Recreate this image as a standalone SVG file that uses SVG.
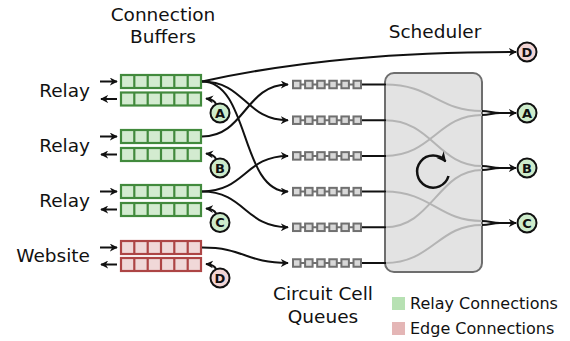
<svg xmlns="http://www.w3.org/2000/svg" width="570" height="341" viewBox="0 0 570 341">
<defs>
<style>
text{font-family:"DejaVu Sans","Liberation Sans",sans-serif;fill:#111}
.lbl{font-size:18.5px}
.leg{font-size:16px}
.ltr{font-size:13px;font-weight:bold;text-anchor:middle}
.gr{fill:#d3ebd0;stroke:#428a3d;stroke-width:2.2}
.gs{stroke:#428a3d;stroke-width:2.2}
.rd{fill:#f0d8d8;stroke:#ad4545;stroke-width:2.2}
.rs{stroke:#ad4545;stroke-width:2.2}
.q rect{fill:#d9d9d9;stroke:#707070;stroke-width:2}
.q line{stroke:#707070;stroke-width:2}
.cg{fill:#cdeccb;stroke:#111;stroke-width:2}
.cr{fill:#f2d5d5;stroke:#111;stroke-width:2}
.k{fill:none;stroke:#111;stroke-width:2}
.ka{fill:none;stroke:#111;stroke-width:2;marker-end:url(#ah)}
.g{fill:none;stroke:#b4b4b4;stroke-width:2}
</style>
<marker id="ah" viewBox="0 0 10 10" refX="9" refY="5" markerWidth="4" markerHeight="4" orient="auto">
<path d="M0,0 L10,5 L0,10 L3,5 z" fill="#111"/>
</marker>
<g id="rowG">
<rect class="gr" x="121" y="0" width="80" height="13"/>
<path class="gs" d="M134.3,0V13M147.7,0V13M161,0V13M174.3,0V13M187.7,0V13"/>
</g>
<g id="rowR">
<rect class="rd" x="121" y="0" width="80" height="13"/>
<path class="rs" d="M134.3,0V13M147.7,0V13M161,0V13M174.3,0V13M187.7,0V13"/>
</g>
<g id="queue" class="q">
<line x1="293" y1="0" x2="361" y2="0"/>
<rect x="293" y="-3.75" width="7.5" height="7.5"/>
<rect x="305.1" y="-3.75" width="7.5" height="7.5"/>
<rect x="317.2" y="-3.75" width="7.5" height="7.5"/>
<rect x="329.3" y="-3.75" width="7.5" height="7.5"/>
<rect x="341.4" y="-3.75" width="7.5" height="7.5"/>
<rect x="353.5" y="-3.75" width="7.5" height="7.5"/>
</g>
</defs>
<rect width="570" height="341" fill="#fff"/>

<g id="titles">
<text class="lbl" x="163" y="21" text-anchor="middle">Connection</text>
<text class="lbl" x="163" y="43" text-anchor="middle">Buffers</text>
<text class="lbl" x="435" y="38" text-anchor="middle">Scheduler</text>
<text class="lbl" x="323" y="300" text-anchor="middle">Circuit Cell</text>
<text class="lbl" x="323" y="323" text-anchor="middle">Queues</text>
</g>

<g id="relay1">
<text class="lbl" x="90" y="97" text-anchor="end">Relay</text>
<use href="#rowG" y="75"/>
<use href="#rowG" y="92.5"/>
</g>
<g id="relay2">
<text class="lbl" x="90" y="152" text-anchor="end">Relay</text>
<use href="#rowG" y="130"/>
<use href="#rowG" y="148"/>
</g>
<g id="relay3">
<text class="lbl" x="90" y="207" text-anchor="end">Relay</text>
<use href="#rowG" y="185"/>
<use href="#rowG" y="203"/>
</g>
<g id="website">
<text class="lbl" x="90" y="262" text-anchor="end">Website</text>
<use href="#rowR" y="241"/>
<use href="#rowR" y="258"/>
</g>

<g id="queues">
<use href="#queue" y="84.5"/>
<use href="#queue" y="120.2"/>
<use href="#queue" y="155.9"/>
<use href="#queue" y="191.6"/>
<use href="#queue" y="227.3"/>
<use href="#queue" y="263"/>
</g>

<g id="scheduler">
<rect x="385" y="73" width="97" height="199" rx="9" fill="#e3e3e3" stroke="#6e6e6e" stroke-width="2"/>
<path class="g" d="M385,84.5 C432,84.5 438,111 482,111"/>
<path class="g" d="M385,155.9 C432,155.9 438,115 482,115"/>
<path class="g" d="M385,120.2 C432,120.2 438,166 482,166"/>
<path class="g" d="M385,227.3 C432,227.3 438,170 482,170"/>
<path class="g" d="M385,191.6 C432,191.6 438,221 482,221"/>
<path class="g" d="M385,263 C432,263 438,225 482,225"/>
<path fill="none" stroke="#111" stroke-width="2.5" marker-end="url(#ah)" d="M448.5,176 A16,16 0 1 1 445.5,161.5"/>
</g>

<g id="circleA1"><circle class="cg" cx="220" cy="113" r="9.5"/><text class="ltr" x="220" y="117.7">A</text></g>
<g id="circleB1"><circle class="cg" cx="220" cy="168" r="9.5"/><text class="ltr" x="220" y="172.7">B</text></g>
<g id="circleC1"><circle class="cg" cx="220" cy="222.5" r="9.5"/><text class="ltr" x="220" y="227.2">C</text></g>
<g id="circleD1"><circle class="cr" cx="220" cy="278" r="9.5"/><text class="ltr" x="220" y="282.7">D</text></g>
<g id="circleA2"><circle class="cg" cx="527" cy="113" r="9.5"/><text class="ltr" x="527" y="117.7">A</text></g>
<g id="circleB2"><circle class="cg" cx="527" cy="168" r="9.5"/><text class="ltr" x="527" y="172.7">B</text></g>
<g id="circleC2"><circle class="cg" cx="527" cy="223" r="9.5"/><text class="ltr" x="527" y="227.7">C</text></g>
<g id="circleD2"><circle class="cr" cx="527" cy="52" r="9.5"/><text class="ltr" x="527" y="56.7">D</text></g>

<g id="legend">
<rect x="392" y="297" width="13" height="13" fill="#b7e1b3"/>
<text class="leg" x="410" y="308.5">Relay Connections</text>
<rect x="392" y="322" width="13" height="13" fill="#e4b6b6"/>
<text class="leg" x="410" y="333.5">Edge Connections</text>
</g>

<g id="connectors">
<path class="ka" d="M100,81.5 H117"/>
<path class="ka" d="M117,99 H101"/>
<path class="ka" d="M100,136.5 H117"/>
<path class="ka" d="M117,154.5 H101"/>
<path class="ka" d="M100,191.5 H117"/>
<path class="ka" d="M117,209.5 H101"/>
<path class="ka" d="M100,247.5 H117"/>
<path class="ka" d="M117,264.5 H101"/>

<path class="ka" d="M216,104 Q214,99.5 206,98.5"/>
<path class="ka" d="M216,159 Q214,154.5 206,153.5"/>
<path class="ka" d="M216,213.5 Q214,209 206,208.5"/>
<path class="ka" d="M216,269 Q214,264.5 206,264"/>

<path class="ka" d="M202,81.5 C300,60 400,52 516,52"/>
<path class="ka" d="M202,81.5 C245,81.5 245,120.2 288,120.2"/>
<path class="ka" d="M202,81.5 C250,81.5 240,191.6 288,191.6"/>
<path class="ka" d="M202,136.5 C245,136.5 245,84.5 288,84.5"/>
<path class="ka" d="M202,191.5 C245,191.5 245,155.9 288,155.9"/>
<path class="ka" d="M202,191.5 C245,191.5 245,227.3 288,227.3"/>
<path class="ka" d="M202,247.5 C245,247.5 245,263 288,263"/>

<path class="k" d="M362,84.5 H386M362,120.2 H386M362,155.9 H386M362,191.6 H386M362,227.3 H386M362,263 H386"/>

<path class="k" d="M482,115 C490,115 492,113 500,113"/>
<path class="ka" d="M482,111 C490,111 492,113 500,113 H516"/>
<path class="k" d="M482,170 C490,170 492,168 500,168"/>
<path class="ka" d="M482,166 C490,166 492,168 500,168 H516"/>
<path class="k" d="M482,225 C490,225 492,223 500,223"/>
<path class="ka" d="M482,221 C490,221 492,223 500,223 H516"/>
</g>
</svg>
